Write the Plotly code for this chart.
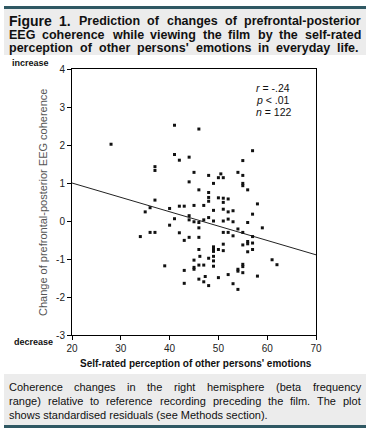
import plotly.graph_objects as go

# ---------------- data ----------------
score = [28, 41, 46, 41, 42, 44, 37, 37, 45, 48, 44, 57, 55, 50, 50.5, 51, 54, 55,
         49, 55, 55, 56, 46, 48, 48, 48, 37, 50, 51, 52, 51, 58, 36, 35, 40, 42,
         43, 45, 47, 49, 51, 52, 53, 57, 44, 41, 44, 45, 46, 47, 48, 49, 51, 52,
         53, 56, 40, 46, 59, 54, 34, 36, 37, 42, 44, 46, 43, 51, 52, 53, 55, 57,
         49, 49, 49, 50, 51, 51, 46, 55, 56, 56, 57, 57, 56, 49, 49, 49, 48, 47,
         46, 46.2, 45, 45, 45, 43, 39, 55, 55, 54, 54, 55, 52, 58, 61, 62, 47.3,
         46, 47, 48, 43, 50, 53, 54]
residual = [2.02, 2.52, 2.42, 1.75, 1.60, 1.68, 1.43, 1.33, 1.28, 1.20, 1.03, 1.85,
            1.59, 1.14, 1.24, 1.14, 1.28, 1.20, 0.99, 0.99, 0.93, 0.82, 0.82, 0.75,
            0.62, 0.52, 0.55, 0.61, 0.60, 0.58, 0.49, 0.45, 0.35, 0.24, 0.33, 0.39,
            0.39, 0.41, 0.41, 0.28, 0.31, 0.24, 0.27, 0.18, 0.14, 0.06, 0.03, -0.02,
            -0.04, 0.03, 0.09, 0.00, 0.00, 0.05, -0.02, -0.04, -0.11, -0.18, -0.18,
            -0.21, -0.41, -0.30, -0.30, -0.31, -0.43, -0.43, -0.51, -0.30, -0.30,
            -0.39, -0.30, -0.41, -0.68, -0.75, -0.80, -0.75, -0.61, -0.78, -0.75,
            -0.63, -0.54, -0.60, -0.58, -0.75, -0.81, -0.93, -1.05, -1.19, -0.98,
            -1.16, -1.16, -0.93, -1.03, -1.22, -1.27, -1.30, -1.18, -1.14, -1.20,
            -1.27, -1.32, -1.36, -1.41, -1.45, -1.02, -1.15, -1.46, -1.53, -1.60,
            -1.70, -1.64, -1.49, -1.65, -1.80]
fit_x = [20, 70]
fit_y = [1.00, -0.89]
x_ticks = [20, 30, 40, 50, 60, 70]
y_ticks = [-3, -2, -1, 0, 1, 2, 3, 4]
stats = ["<i>r</i> = -.24", "<i>p</i> &lt; .01", "<i>n</i> = 122"]

title_lines = [
    "Prediction of changes of prefrontal-posterior",
    "EEG coherence while viewing the film by the self-rated",
    "perception of other persons' emotions in everyday life.",
]
caption_lines = [
    "Coherence changes in the right hemisphere (beta frequency",
    "range) relative to reference recording preceding the film. The plot",
    "shows standardised residuals (see Methods section).",
]

# ---------------- layout helpers ----------------
W, H = 373, 433
L, R, T, B = 72, 57, 69, 98
PW, PH = W - L - R, H - T - B
FONT = "Liberation Sans, Arial, sans-serif"


def px(x):
    return (x - L) / PW


def py(y):
    return 1 - (y - T) / PH


REG = dict(zip(" !'(),-.", [278, 278, 191, 333, 333, 278, 333, 278]))
BLD = dict(zip(" !'(),-.", [278, 333, 238, 333, 333, 278, 333, 278]))
for d in (REG, BLD):
    for c in "0123456789":
        d[c] = 556
up_r = dict(A=667, B=667, C=722, D=722, E=667, F=611, G=778, H=722, I=278, J=500,
            K=667, L=556, M=833, N=722, O=778, P=667, Q=778, R=722, S=667, T=611,
            U=722, V=667, W=944, X=667, Y=667, Z=611)
lo_r = dict(a=556, b=556, c=500, d=556, e=556, f=278, g=556, h=556, i=222, j=222,
            k=500, l=222, m=833, n=556, o=556, p=556, q=556, r=333, s=500, t=278,
            u=556, v=500, w=722, x=500, y=500, z=500)
up_b = dict(up_r, A=722, B=722, J=556, K=722, L=611, Q=778, R=722, V=667)
lo_b = dict(a=556, b=611, c=556, d=611, e=556, f=333, g=611, h=611, i=278, j=278,
            k=556, l=278, m=889, n=611, o=611, p=611, q=611, r=389, s=556, t=333,
            u=611, v=556, w=778, x=556, y=556, z=500)
REG.update(up_r); REG.update(lo_r)
BLD.update(up_b); BLD.update(lo_b)


def tw(s, size, bold):
    tab = BLD if bold else REG
    return sum(tab.get(c, 556) for c in s) * size / 1000.0


annotations = []


def word_ann(text, x, y, size, bold, color):
    annotations.append(dict(
        x=px(x), y=py(y), xref="paper", yref="paper", xanchor="left", yanchor="middle",
        text=f"<b>{text}</b>" if bold else text, showarrow=False,
        borderpad=0, borderwidth=0,
        font=dict(family=FONT, size=size, color=color)))


def justify(words, sizes, left, right, y, bold, color):
    widths = [tw(w, s, bold) for w, s in zip(words, sizes)]
    gap = (right - left - sum(widths)) / (len(words) - 1)
    x = left
    for w, s, wd in zip(words, sizes, widths):
        word_ann(w, x, y, s, bold, color)
        x += wd + gap


def plain(text, left, y, size, bold, color):
    word_ann(text, left, y, size, bold, color)


TXT = "#111111"
# title
w1 = ["Figure", "1."] + title_lines[0].split()
justify(w1, [14, 14] + [12.5] * (len(w1) - 2), 9, 361, 21.5, True, TXT)
w2 = title_lines[1].split()
justify(w2, [12.5] * len(w2), 9, 361, 35, True, TXT)
w3 = title_lines[2].split()
justify(w3, [12.5] * len(w3), 9, 359, 48, True, TXT)
# caption
c1 = caption_lines[0].split()
justify(c1, [11] * len(c1), 9, 361, 387, False, TXT)
c2 = caption_lines[1].split()
justify(c2, [11] * len(c2), 9, 361, 401, False, TXT)
plain(caption_lines[2], 9, 415, 11, False, TXT)

# increase / decrease
plain("increase", 12, 63, 9, True, TXT)
plain("decrease", 14, 342, 9, True, TXT)

# stats
for i, s in enumerate(stats):
    annotations.append(dict(x=px(273), y=py(88 + 12 * i), xref="paper", yref="paper",
                            xanchor="center", yanchor="middle", text=s, showarrow=False,
                            borderpad=0, borderwidth=0,
                            font=dict(family=FONT, size=10.5, color=TXT)))

# axis titles
annotations.append(dict(x=px(43), y=py(203), xref="paper", yref="paper",
                        xanchor="center", yanchor="middle", textangle=-90,
                        text="Change of prefrontal-posterior EEG coherence",
                        showarrow=False, font=dict(family=FONT, size=11, color="#555555")))
annotations.append(dict(x=px(196), y=py(363), xref="paper", yref="paper",
                        xanchor="center", yanchor="middle",
                        text="<b>Self-rated perception of other persons' emotions</b>",
                        showarrow=False, font=dict(family=FONT, size=10, color=TXT)))

TEAL = "#2f5863"
GRAY = "#ececec"
shapes = [
    dict(type="rect", xref="paper", yref="paper", x0=px(4), x1=px(366), y0=py(9), y1=py(55),
         fillcolor=GRAY, line=dict(width=0), layer="below"),
    dict(type="rect", xref="paper", yref="paper", x0=px(4), x1=px(366), y0=py(6), y1=py(9),
         fillcolor=TEAL, line=dict(width=0), layer="below"),
    dict(type="rect", xref="paper", yref="paper", x0=px(4), x1=px(366), y0=py(374), y1=py(425),
         fillcolor=GRAY, line=dict(width=0), layer="below"),
    dict(type="rect", xref="paper", yref="paper", x0=px(4), x1=px(366), y0=py(425), y1=py(428),
         fillcolor=TEAL, line=dict(width=0), layer="below"),
]

fig = go.Figure()
fig.add_trace(go.Scatter(x=fit_x, y=fit_y, mode="lines",
                         line=dict(color="#222222", width=1), hoverinfo="skip"))
fig.add_trace(go.Scatter(x=score, y=residual, mode="markers",
                         marker=dict(symbol="square", size=3, color="#111111",
                                     line=dict(width=0))))

axis_common = dict(showgrid=False, zeroline=False, showline=True, mirror=True,
                   linecolor="black", linewidth=1, ticks="outside", ticklen=4,
                   tickcolor="black", tickwidth=1,
                   tickfont=dict(family=FONT, size=10, color="#222222"))
fig.update_xaxes(range=[20, 70], tickvals=x_ticks, ticktext=[str(v) for v in x_ticks],
                 **axis_common)
fig.update_yaxes(range=[-3, 4], tickvals=y_ticks, ticktext=[str(v) for v in y_ticks],
                 **axis_common)
fig.update_layout(width=W, height=H, margin=dict(l=L, r=R, t=T, b=B, autoexpand=False),
                  paper_bgcolor="white", plot_bgcolor="white", showlegend=False,
                  annotations=annotations, shapes=shapes)
fig.write_html("out.html", config={"displayModeBar": False},
               post_script="document.body.style.margin='0';document.body.style.overflow='hidden';")
